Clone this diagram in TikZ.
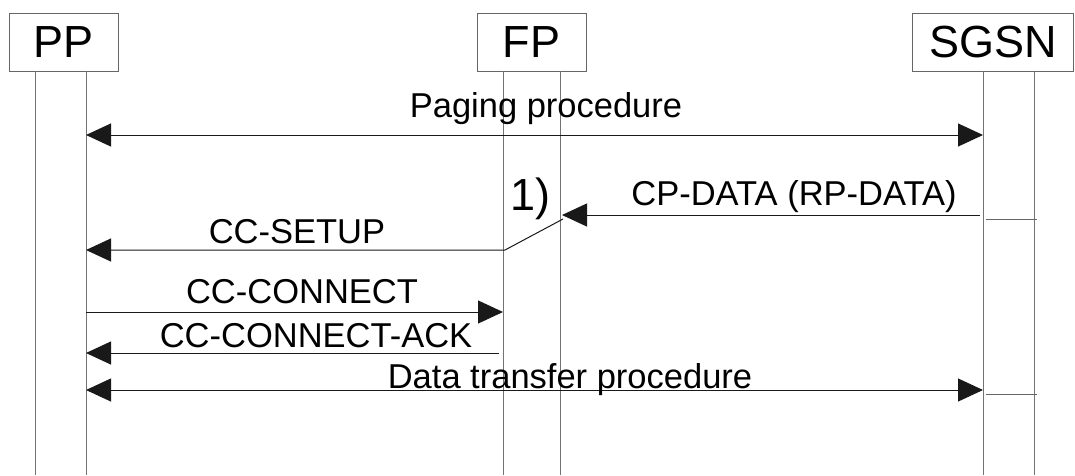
\documentclass[tikz,border=0pt]{standalone}
\usepackage{fontspec}
\setmainfont{Liberation Sans}
\usetikzlibrary{arrows.meta}
\begin{document}
\begin{tikzpicture}[x=1pt,y=-1pt,
  ent/.style={draw=black!60, line width=1pt, minimum height=58pt, inner sep=0pt, font=\fontsize{45}{50}\selectfont},
  life/.style={draw=black!55, line width=1pt},
  msg/.style={draw=black!90, line width=1pt, -{Triangle[length=25pt,width=23pt]}},
  dmsg/.style={draw=black!90, line width=1pt, {Triangle[length=25pt,width=23pt]}-{Triangle[length=25pt,width=23pt]}},
  lbl/.style={font=\fontsize{34.5}{40}\selectfont, inner sep=0pt, anchor=base},
  tickln/.style={draw=black!60, line width=1pt}]
\useasboundingbox (0,0) rectangle (1075,475);
% entities
\node[ent, minimum width=109pt] (PP) at (63.5,42) {PP};
\node[ent, minimum width=109pt] (FP) at (531.5,42) {FP};
\node[ent, minimum width=161pt] (SGSN) at (993,42) {SGSN};
% lifelines
\foreach \n/\x in {ppa/35, ppb/86, fpa/503, fpb/560, sga/983, sgb/1034} {
  \coordinate (\n-t) at (\x,71);
  \coordinate (\n-b) at (\x,475);
  \draw[life] (\n-t) -- (\n-b);
}
% Paging procedure
\coordinate (pg-l) at (86,135);
\coordinate (pg-r) at (983,135);
\draw[dmsg] (pg-l) -- (pg-r);
\node[lbl] (pgt) at (546,117) {Paging procedure};
% CP-DATA
\coordinate (cp-s) at (980,215);
\coordinate (cp-e) at (562,215);
\draw[msg] (cp-s) -- (cp-e);
\node[lbl] (cpt) at (794,205) {CP-DATA (RP-DATA)};
\coordinate (tk1-a) at (986,219);
\coordinate (tk1-b) at (1037,219);
\draw[tickln] (tk1-a) -- (tk1-b);
% 1)
\node[lbl, font=\fontsize{45}{50}\selectfont] (one) at (530,210) {1)};
% CC-SETUP
\coordinate (su-s) at (563,219);
\coordinate (su-k) at (505,250);
\coordinate (su-e) at (86,250);
\draw[msg] (su-s) -- (su-k) -- (su-e);
\node[lbl] (sut) at (297,243) {CC-SETUP};
% CC-CONNECT
\coordinate (cn-s) at (86,312);
\coordinate (cn-e) at (503,312);
\draw[msg] (cn-s) -- (cn-e);
\node[lbl] (cnt) at (302,303) {CC-CONNECT};
% CC-CONNECT-ACK
\coordinate (ack-s) at (499,353);
\coordinate (ack-e) at (86,353);
\draw[msg] (ack-s) -- (ack-e);
\node[lbl] (ackt) at (316,347) {CC-CONNECT-ACK};
% Data transfer procedure
\coordinate (dt-l) at (86,390);
\coordinate (dt-r) at (983,390);
\draw[dmsg] (dt-l) -- (dt-r);
\node[lbl] (dtt) at (570,388) {Data transfer procedure};
\coordinate (tk2-a) at (986,394);
\coordinate (tk2-b) at (1037,394);
\draw[tickln] (tk2-a) -- (tk2-b);
\end{tikzpicture}
\end{document}
